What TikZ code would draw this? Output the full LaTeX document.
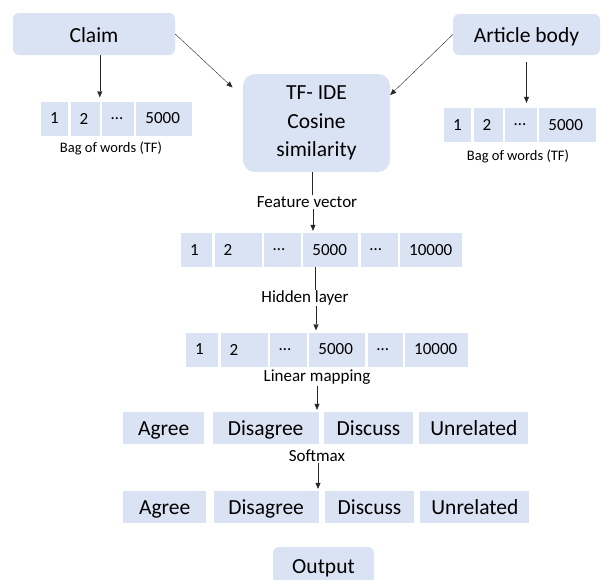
\documentclass[tikz,border=0pt]{standalone}
\usepackage{fontspec}
\setmainfont{Carlito}
\usetikzlibrary{positioning, arrows.meta, calc}
\definecolor{boxblue}{RGB}{218,227,243}

\begin{document}
\begin{tikzpicture}[x=1pt, y=-1pt,
        box/.style={fill=boxblue, rounded corners=6pt, inner sep=0pt, font=\fontsize{21.5}{28.5}\selectfont},
        oneline/.style={text height=16pt, text depth=0pt},
        cell/.style={fill=boxblue, inner xsep=9pt, inner ysep=0pt, minimum height=34pt,
            text width=#1-18pt, align=left, font=\fontsize{17}{20}\selectfont},
        class/.style={fill=boxblue, inner sep=0pt, minimum height=32pt, minimum width=#1,
            text height=14pt, text depth=0pt, font=\fontsize{21.5}{26}\selectfont},
        lbl/.style={inner sep=1pt, font=\fontsize{17}{20}\selectfont},
        small/.style={inner sep=1pt, font=\fontsize{14.5}{17}\selectfont},
        arr/.style={-{Triangle[length=6pt,width=5pt]}, draw=black!85, shorten >=2pt},
        node distance=2pt
    ]
    \clip (0,0) rectangle (601,579);

    % Eingaben
    \node[box, oneline, minimum width=162pt, minimum height=42pt] (claim) at (94,34) {Claim};
    \node[box, oneline, minimum width=147pt, minimum height=41pt] (article) at (526.5,34.5) {Article body};
    \node[box, rounded corners=12pt, minimum width=147pt, minimum height=98pt, align=center]
        (tfide) at (316.5,123) {TF- IDE\\Cosine\\similarity};

    % Bag of words (links)
    \node[cell=27pt, anchor=west] (lb1) at (41,118.5) {1};
    \node[cell=29pt, right=of lb1] (lb2) {2};
    \node[cell=32pt, right=of lb2] (lb3) {…};
    \node[cell=56pt, right=of lb3] (lb4) {5000};
    \node[small] (lbag) at (111,148) {Bag of words (TF)};

    % Bag of words (rechts)
    \node[cell=27pt, anchor=west] (rb1) at (444,125) {1};
    \node[cell=29pt, right=of rb1] (rb2) {2};
    \node[cell=32pt, right=of rb2] (rb3) {…};
    \node[cell=57pt, right=of rb3] (rb4) {5000};
    \node[small] (rbag) at (518,156) {Bag of words (TF)};

    % Merkmalsvektor
    \node[lbl] (feat) at (307,202) {Feature vector};
    \node[cell=31pt, anchor=west] (ha1) at (181,250) {1};
    \node[cell=47pt, right=of ha1] (ha2) {2};
    \node[cell=37pt, right=of ha2] (ha3) {…};
    \node[cell=55pt, right=of ha3] (ha4) {5000};
    \node[cell=37pt, right=of ha4] (ha5) {…};
    \node[cell=62pt, right=of ha5] (ha6) {10000};

    % Hidden layer
    \node[lbl] (hidden) at (305,298) {Hidden layer};
    \node[cell=32pt, anchor=west] (hb1) at (186,349.5) {1};
    \node[cell=47pt, right=of hb1] (hb2) {2};
    \node[cell=37pt, right=of hb2] (hb3) {…};
    \node[cell=56pt, right=of hb3] (hb4) {5000};
    \node[cell=35pt, right=of hb4] (hb5) {…};
    \node[cell=63pt, right=of hb5] (hb6) {10000};

    % Klassen
    \node[lbl] (linmap) at (317,377) {Linear mapping};
    \node[class=81pt, anchor=west] (ca1) at (123,428) {Agree};
    \node[class=106pt, right=8pt of ca1] (ca2) {Disagree};
    \node[class=89pt, right=5pt of ca2] (ca3) {Discuss};
    \node[class=109pt, right=6pt of ca3] (ca4) {Unrelated};

    \node[lbl] (softmax) at (317,456) {Softmax};
    \node[class=83pt, anchor=west] (cb1) at (123,507) {Agree};
    \node[class=105pt, right=7pt of cb1] (cb2) {Disagree};
    \node[class=89pt, right=6pt of cb2] (cb3) {Discuss};
    \node[class=109pt, right=6pt of cb3] (cb4) {Unrelated};

    \node[box, oneline, minimum width=101pt, minimum height=36pt] (output) at (323.5,565) {Output};

    % Pfeile
    \draw[arr, shorten >=4pt] (claim.south -| lb2.east) -- (lb2.north east);
    \draw[arr, shorten >=14pt] (claim.east) -- ($(tfide.west)+(0,-26)$);
    \draw[arr, shorten >=0pt] (article.west) -- ($(tfide.east)+(0,-28)$);
    \draw[arr, shorten <=7pt, shorten >=5pt] (article.south) -- (article.south |- rb3.north);

    \draw[draw=black!85] ([xshift=-4.5pt]tfide.south) -- ([xshift=5pt]feat.north);
    \draw[arr] ([xshift=6pt]feat.south) -- ([xshift=6pt]feat.south |- ha4.north);
    \draw[draw=black!85] ([xshift=10pt]hidden.north |- ha4.south) -- ([xshift=10pt]hidden.north);
    \draw[arr] ([xshift=11pt]hidden.south) -- ([xshift=11pt]hidden.south |- hb4.north);
    \draw[arr] (linmap.south) -- (linmap.south |- ca2.north);
    \draw[arr] ([xshift=1pt]softmax.south) -- ([xshift=1pt]softmax.south |- cb2.north);

\end{tikzpicture}
\end{document}
